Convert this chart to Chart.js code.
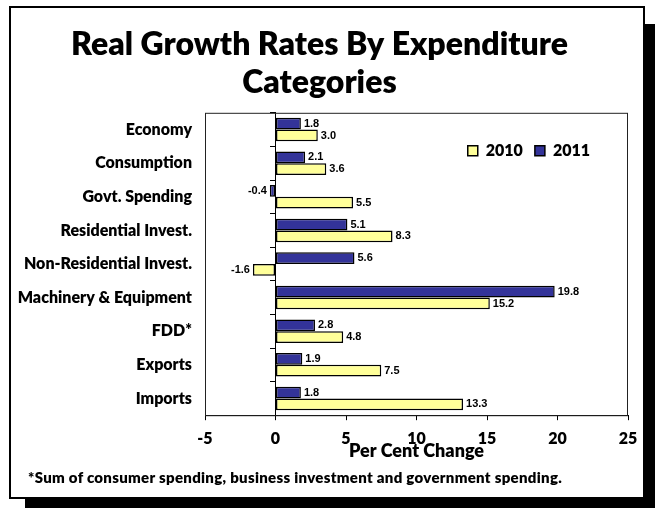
<!DOCTYPE html>
<html>
<head>
<meta charset="utf-8">
<title>Real Growth Rates By Expenditure Categories</title>
<script src="https://cdn.jsdelivr.net/npm/chart.js@4.4.1/dist/chart.umd.min.js"></script>
<style>
  body { margin: 0; background: #fff; width: 655px; height: 508px; overflow: hidden; position: relative; }
  .frame {
    position: absolute; left: 9px; top: 6px;
    width: 632px; height: 489px;
    border: 2px solid #000; background: #fff;
    box-shadow: 16px 18px 0 #000;
  }
  .frame canvas { position: absolute; left: 0; top: 0; }
  .note {
    position: absolute; left: 17px; top: 460px;
    font: 800 15px Lato, sans-serif; letter-spacing: 0.3px; color: #000;
  }
</style>
</head>
<body>
<div class="frame">
  <canvas id="growthChart" width="632" height="489"></canvas>
  <div class="note">*Sum of consumer spending, business investment and government spending.</div>
</div>
<script>
// chart data
var categories = ['Economy', 'Consumption', 'Govt. Spending', 'Residential Invest.', 'Non-Residential Invest.',
  'Machinery & Equipment', 'FDD*', 'Exports', 'Imports'];
var growth2011 = [1.8, 2.1, -0.4, 5.1, 5.6, 19.8, 2.8, 1.9, 1.8];
var growth2010 = [3.0, 3.6, 5.5, 8.3, -1.6, 15.2, 4.8, 7.5, 13.3];
var xTicks = [-5, 0, 5, 10, 15, 20, 25];

// value labels at the end of each bar
var barValues = {
  id: 'barValues',
  afterDatasetsDraw: function (chart) {
    var ctx = chart.ctx;
    ctx.save();
    ctx.font = 'bold 11px "Liberation Sans", Arial, sans-serif';
    ctx.fillStyle = '#000';
    ctx.textBaseline = 'middle';
    chart.data.datasets.forEach(function (ds, i) {
      chart.getDatasetMeta(i).data.forEach(function (bar, j) {
        var v = ds.data[j];
        ctx.textAlign = v < 0 ? 'right' : 'left';
        ctx.fillText(v.toFixed(1), bar.x + (v < 0 ? -3 : 3), bar.y);
      });
    });
    ctx.restore();
  }
};

// box round the plot area, legend moved down into the plot
var plotBox = {
  id: 'plotBox',
  afterLayout: function (chart) {
    var lg = chart.legend;
    var dy = chart.chartArea.top + 18 - lg.top;
    lg.top += dy; lg.bottom += dy;
    lg.left -= 26; lg.right -= 26;
  },
  afterDraw: function (chart) {
    var a = chart.chartArea, ctx = chart.ctx;
    ctx.save();
    ctx.strokeStyle = '#222';
    ctx.lineWidth = 1;
    ctx.strokeRect(a.left + 0.5, a.top + 0.5, a.right - a.left - 1, a.bottom - a.top);
    ctx.restore();
  }
};

function drawChart() {
  var ctx = document.getElementById('growthChart').getContext('2d');
  new Chart(ctx, {
    type: 'bar',
    data: {
      labels: categories,
      datasets: [{
        label: '2011',
        data: growth2011,
        backgroundColor: '#333399',
        borderColor: '#000',
        borderWidth: 1.5,
        borderSkipped: false,
        yAxisID: 'y'
      }, {
        label: '2010',
        data: growth2010,
        backgroundColor: '#FFFF99',
        borderColor: '#000',
        borderWidth: 1.5,
        borderSkipped: false,
        yAxisID: 'y'
      }]
    },
    options: {
      indexAxis: 'y',
      responsive: false,
      animation: false,
      datasets: { bar: { categoryPercentage: 0.7, barPercentage: 1 } },
      layout: { padding: { left: 0, right: 15, top: 0, bottom: 35 } },
      plugins: {
        title: {
          display: true,
          text: ['Real Growth Rates By Expenditure', 'Categories'],
          color: '#000',
          font: { family: 'Lato', size: 32, weight: '800', lineHeight: 1.2 },
          padding: { top: 17, bottom: -27 }
        },
        legend: {
          position: 'top',
          align: 'end',
          reverse: true,
          labels: {
            boxWidth: 10,
            boxHeight: 10,
            padding: 12,
            color: '#000',
            font: { family: 'Lato', size: 16, weight: '800' }
          }
        },
        tooltip: { enabled: false }
      },
      scales: {
        x: {
          type: 'linear',
          min: xTicks[0],
          max: xTicks[xTicks.length - 1],
          afterBuildTicks: function (scale) {
            scale.ticks = xTicks.map(function (v) { return { value: v }; });
          },
          afterFit: function (scale) { scale.paddingRight = 0; },
          grid: { drawOnChartArea: false, drawTicks: true, tickLength: 5, color: '#000' },
          border: { display: true, color: '#000' },
          ticks: {
            padding: 9,
            color: '#000',
            font: { family: 'Lato', size: 16, weight: '800' }
          },
          title: {
            display: true,
            text: 'Per Cent Change',
            color: '#000',
            font: { family: 'Lato', size: 18, weight: '800' },
            padding: { top: -17, bottom: 0 }
          }
        },
        y: {
          type: 'category',
          afterFit: function (scale) { scale.width = 194; },
          grid: { display: false, drawTicks: false },
          border: { display: false },
          ticks: {
            padding: 13,
            color: '#000',
            font: { family: 'Lato', size: 16, weight: '800' }
          }
        },
        yz: {
          type: 'category',
          axis: 'y',
          position: { x: 0 },
          grid: { drawOnChartArea: false, offset: true, tickLength: 5, color: '#000' },
          border: { display: true, color: '#000' },
          ticks: { display: false }
        }
      }
    },
    plugins: [barValues, plotBox]
  });
}

Promise.all([
  document.fonts.load('800 16px Lato'),
  document.fonts.load('bold 11px "Liberation Sans"')
]).then(drawChart, drawChart);
</script>
</body>
</html>
